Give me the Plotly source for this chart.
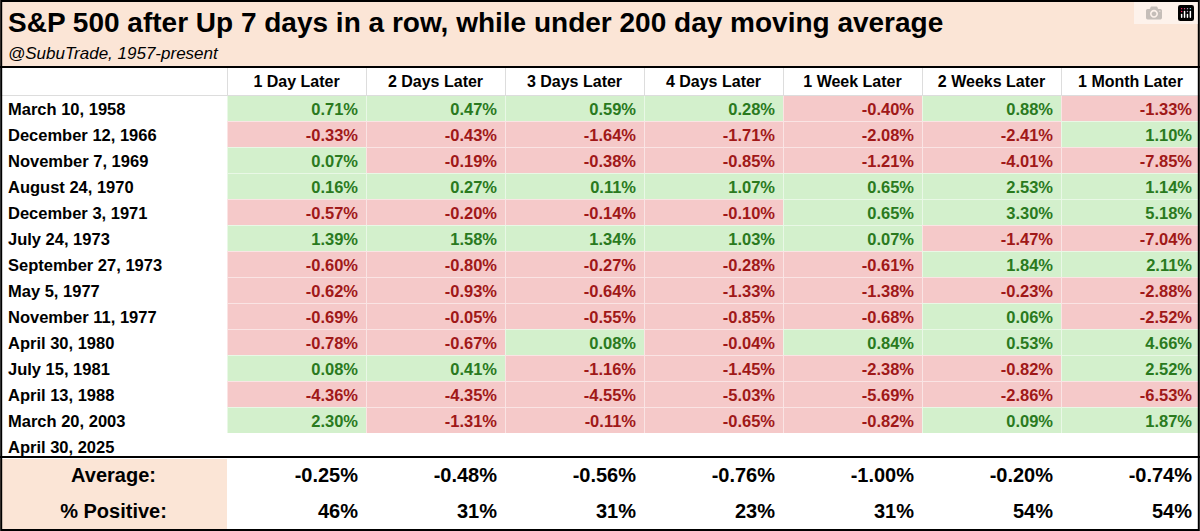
import plotly.graph_objects as go

dates = ["March 10, 1958", "December 12, 1966", "November 7, 1969", "August 24, 1970",
         "December 3, 1971", "July 24, 1973", "September 27, 1973", "May 5, 1977",
         "November 11, 1977", "April 30, 1980", "July 15, 1981", "April 13, 1988",
         "March 20, 2003", "April 30, 2025"]
columns = ["1 Day Later", "2 Days Later", "3 Days Later", "4 Days Later",
           "1 Week Later", "2 Weeks Later", "1 Month Later"]
day1 = [0.71, -0.33, 0.07, 0.16, -0.57, 1.39, -0.60, -0.62, -0.69, -0.78, 0.08, -4.36, 2.30]
day2 = [0.47, -0.43, -0.19, 0.27, -0.20, 1.58, -0.80, -0.93, -0.05, -0.67, 0.41, -4.35, -1.31]
day3 = [0.59, -1.64, -0.38, 0.11, -0.14, 1.34, -0.27, -0.64, -0.55, 0.08, -1.16, -4.55, -0.11]
day4 = [0.28, -1.71, -0.85, 1.07, -0.10, 1.03, -0.28, -1.33, -0.85, -0.04, -1.45, -5.03, -0.65]
week1 = [-0.40, -2.08, -1.21, 0.65, 0.65, 0.07, -0.61, -1.38, -0.68, 0.84, -2.38, -5.69, -0.82]
week2 = [0.88, -2.41, -4.01, 2.53, 3.30, -1.47, 1.84, -0.23, 0.06, 0.53, -0.82, -2.86, 0.09]
month1 = [-1.33, 1.10, -7.85, 1.14, 5.18, -7.04, 2.11, -2.88, -2.52, 4.66, 2.52, -6.53, 1.87]
averages = [-0.25, -0.48, -0.56, -0.76, -1.00, -0.20, -0.74]
pct_positive = [46, 31, 31, 23, 31, 54, 54]

series = [day1, day2, day3, day4, week1, week2, month1]

PEACH = "#fbe5d6"
GREEN, GREEN_TXT = "#d3f0cc", "#2a7a1e"
RED, RED_TXT = "#f5c9c9", "#a01818"

W, H = 1200, 531
top, mid = 67, 459

def fill(v):
    return "white" if v is None else (GREEN if v >= 0 else RED)

def tcol(v):
    return "black" if v is None else (GREEN_TXT if v >= 0 else RED_TXT)

cell_vals = [dates]
cell_fill = [["white"] * len(dates)]
cell_font = [["black"] * len(dates)]
for s in series:
    full = s + [None]
    cell_vals.append(["" if v is None else f"{v:.2f}%" for v in full])
    cell_fill.append([fill(v) for v in full])
    cell_font.append([tcol(v) for v in full])

main = go.Table(
    domain=dict(x=[0, 1], y=[1 - mid / H, 1 - top / H]),
    columnwidth=[227] + [139] * 7,
    header=dict(values=[""] + columns, fill_color="white", height=28,
                line=dict(color="#dddddd", width=1),
                font=dict(family="Liberation Sans", size=16, color="black", weight="bold"),
                align=["left"] + ["center"] * 7),
    cells=dict(values=cell_vals, fill_color=cell_fill, height=26,
               line=dict(color="white", width=0.5),
               font=dict(family="Liberation Sans", size=16.5, color=cell_font, weight="bold"),
               align=["left"] + ["right"] * 7),
)

summary = go.Table(
    domain=dict(x=[0, 1], y=[0, 1 - mid / H]),
    columnwidth=[227] + [139] * 7,
    header=dict(values=[""] * 8, height=0, fill_color="white", line=dict(width=0)),
    cells=dict(
        values=[["Average:", "% Positive:"]] +
               [[f"{a:.2f}%", f"{p}%"] for a, p in zip(averages, pct_positive)],
        fill_color=[[PEACH, PEACH]] + [["white", "white"]] * 7,
        height=36, line=dict(color="white", width=0),
        font=dict(family="Liberation Sans", size=20, color="black", weight="bold"),
        align=["center"] + ["right"] * 7),
)

fig = go.Figure(data=[main, summary])
fig.update_layout(
    width=W, height=H, margin=dict(l=0, r=0, t=0, b=0),
    paper_bgcolor="white",
    shapes=[
        dict(type="rect", xref="paper", yref="paper", x0=0, x1=1, y0=1 - top / H, y1=1,
             fillcolor=PEACH, line=dict(width=0), layer="below"),
        dict(type="line", xref="paper", yref="paper", x0=0, x1=1, y0=1 - top / H, y1=1 - top / H,
             line=dict(color="black", width=2)),
        dict(type="line", xref="paper", yref="paper", x0=0, x1=1, y0=1 - (mid - 2) / H, y1=1 - (mid - 2) / H,
             line=dict(color="black", width=2)),
        dict(type="rect", xref="paper", yref="paper", x0=0.001, x1=0.999, y0=0.002, y1=0.998,
             line=dict(color="black", width=2)),
    ],
    annotations=[
        dict(text="<b>S&P 500 after Up 7 days in a row, while under 200 day moving average</b>",
             xref="paper", yref="paper", x=0.005, y=1 - 5 / H, xanchor="left", yanchor="top",
             showarrow=False, font=dict(family="Liberation Sans", size=28, color="black")),
        dict(text="<i>@SubuTrade, 1957-present</i>",
             xref="paper", yref="paper", x=0.005, y=1 - 42 / H, xanchor="left", yanchor="top",
             showarrow=False, font=dict(family="Liberation Sans", size=17, color="black")),
    ],
)
fig.write_html("out.html", post_script="document.body.style.margin='0';document.body.style.overflow='hidden';")
